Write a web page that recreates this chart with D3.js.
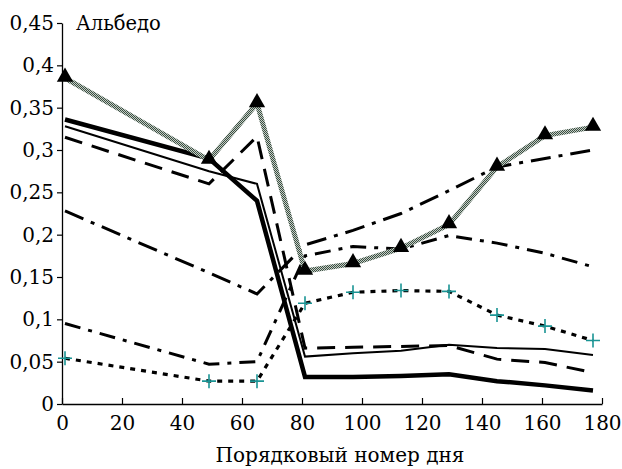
<!DOCTYPE html>
<html>
<head>
<meta charset="utf-8">
<script src="https://cdn.jsdelivr.net/npm/d3@7"></script>
<style>
  body { margin: 0; background: #fff; }
  svg text { font-family: "DejaVu Serif", "Liberation Serif", serif; }
</style>
</head>
<body>
<div id="chart"></div>
<script>
'use strict';

// Data.
var days = [1, 49, 65, 81, 97, 113, 129, 145, 161, 177];
var greyTriangles = [0.385, 0.288, 0.355, 0.157, 0.166, 0.184, 0.212, 0.280, 0.317, 0.327];
var thickSolid   = [0.336, 0.290, 0.240, 0.032, 0.032, 0.033, 0.035, 0.027, 0.022, 0.016];
var thinSolid    = [0.328, 0.275, 0.260, 0.056, 0.060, 0.063, 0.070, 0.066, 0.065, 0.058];
var longDash     = [0.315, 0.260, 0.316, 0.066, 0.067, 0.068, 0.069, 0.053, 0.049, 0.037];
var dashDotUpper = [0.228, 0.155, 0.130, 0.188, 0.205, 0.225, 0.252, 0.280, 0.290, 0.300];
var dashDotLower = [0.095, 0.047, 0.050, 0.175, 0.186, 0.183, 0.199, 0.190, 0.178, 0.162];
var dottedPlus   = [0.054, 0.027, 0.027, 0.119, 0.132, 0.134, 0.133, 0.105, 0.092, 0.075];

var xTicks = [0, 20, 40, 60, 80, 100, 120, 140, 160, 180];
var yTicks = [0, 0.05, 0.1, 0.15, 0.2, 0.25, 0.3, 0.35, 0.4, 0.45];

var yTitle = "Альбедо";
var xTitle = "Порядковый номер дня";

var WIDTH = 622;
var HEIGHT = 469;
var margin = { top: 23, right: 20, bottom: 65, left: 62 };

var svg = d3.select("#chart")
    .append("svg")
    .attr("width", WIDTH)
    .attr("height", HEIGHT);

// Checkered texture for the grey line.
var defs = svg.append("defs");
var checker = defs.append("pattern")
    .attr("id", "checker")
    .attr("patternUnits", "userSpaceOnUse")
    .attr("width", 2)
    .attr("height", 2);
checker.append("rect").attr("width", 2).attr("height", 2).attr("fill", "#c3cfc5");
checker.append("rect").attr("width", 1).attr("height", 1).attr("fill", "#3c4c42");
checker.append("rect").attr("x", 1).attr("y", 1).attr("width", 1).attr("height", 1).attr("fill", "#3c4c42");

var x = d3.scaleLinear()
    .domain([0, 180])
    .range([margin.left, WIDTH - margin.right]);

var y = d3.scaleLinear()
    .domain([0, 0.45])
    .range([HEIGHT - margin.bottom, margin.top]);

var commaFormat = function (d) {
    return String(+d.toFixed(2)).replace(".", ",");
};

// Axes.
var xAxis = svg.append("g")
    .attr("transform", "translate(0," + y(0) + ")")
    .call(d3.axisBottom(x)
        .tickValues(xTicks)
        .tickSizeInner(-6)
        .tickSizeOuter(0)
        .tickPadding(12));

var yAxis = svg.append("g")
    .attr("transform", "translate(" + x(0) + ",0)")
    .call(d3.axisLeft(y)
        .tickValues(yTicks)
        .tickFormat(commaFormat)
        .tickSizeInner(5)
        .tickSizeOuter(0)
        .tickPadding(3));

[xAxis, yAxis].forEach(function (ax) {
    ax.select(".domain").attr("stroke", "#000").attr("stroke-width", 1.3);
    ax.selectAll(".tick line").attr("stroke", "#000").attr("stroke-width", 1.2);
    ax.selectAll(".tick text")
        .attr("fill", "#000")
        .style("font-size", "20px")
        .style("font-family", "DejaVu Serif, serif");
});

// Titles.
svg.append("text")
    .attr("x", 76)
    .attr("y", 30)
    .style("font-size", "19.5px")
    .text(yTitle);

svg.append("text")
    .attr("x", 340)
    .attr("y", 462)
    .attr("text-anchor", "middle")
    .style("font-size", "20px")
    .text(xTitle);

// Lines.
var line = d3.line()
    .x(function (d, i) { return x(days[i]); })
    .y(function (d) { return y(d); });

var series = [
    { values: dashDotUpper, width: 3, dash: "20,8,4,8", color: "#000" },
    { values: dashDotLower, width: 3, dash: "16,8,4,8", color: "#000" },
    { values: longDash, width: 3, dash: "18,10", color: "#000" },
    { values: thinSolid, width: 2, dash: null, color: "#000" },
    { values: thickSolid, width: 4.5, dash: null, color: "#000" },
    { values: dottedPlus, width: 3.2, dash: "5,6", color: "#000" },
    { values: greyTriangles, width: 5, dash: null, color: "url(#checker)" }
];

series.forEach(function (s) {
    svg.append("path")
        .datum(s.values)
        .attr("d", line)
        .attr("fill", "none")
        .attr("stroke", s.color)
        .attr("stroke-width", s.width)
        .attr("stroke-dasharray", s.dash)
        .attr("stroke-linejoin", "miter");
});

// Triangle markers.
svg.selectAll(".tri")
    .data(greyTriangles)
    .enter()
    .append("path")
    .attr("class", "tri")
    .attr("d", d3.symbol().type(d3.symbolTriangle).size(115))
    .attr("transform", function (d, i) { return "translate(" + x(days[i]) + "," + (y(d) - 1) + ")"; })
    .attr("fill", "#000");

// Plus markers.
var half = 7;
svg.selectAll(".plus")
    .data(dottedPlus)
    .enter()
    .append("path")
    .attr("class", "plus")
    .attr("d", function (d, i) {
        var cx = x(days[i]), cy = y(d);
        return "M" + (cx - half) + "," + cy + "H" + (cx + half) +
            "M" + cx + "," + (cy - half) + "V" + (cy + half);
    })
    .attr("stroke", "#1a9494")
    .attr("stroke-width", 1.6)
    .attr("fill", "none");
</script>
</body>
</html>
